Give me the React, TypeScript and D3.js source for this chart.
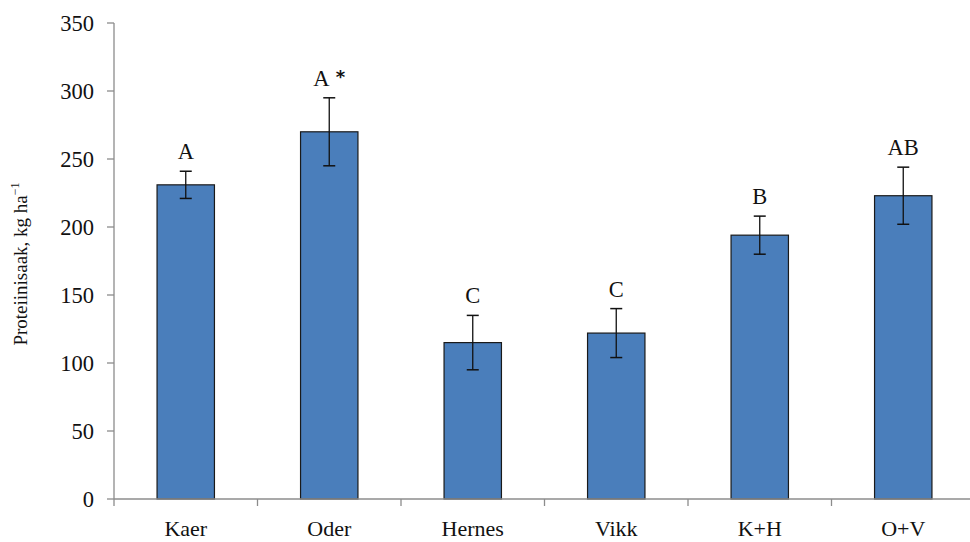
import React from "react";
import * as d3 from "d3";

const categories = ["Kaer", "Oder", "Hernes", "Vikk", "K+H", "O+V"];
const means = [231, 270, 115, 122, 194, 223];
const errors = [10, 25, 20, 18, 14, 21];
const letters = ["A", "A", "C", "C", "B", "AB"];
const starred = [false, true, false, false, false, false];
const yTicks = [0, 50, 100, 150, 200, 250, 300, 350];

const W = 970;
const H = 542;
const left = 114;
const right = 975;
const top = 23;
const bottom = 499;
const font = "'Liberation Serif', 'Times New Roman', serif";
const axisColor = "#8c8c8c";

export default function App() {
  const x = d3.scaleBand<string>().domain(categories).range([left, right]).padding(0);
  const y = d3.scaleLinear().domain([0, 350]).range([bottom, top]);
  const bw = x.bandwidth() * 0.4;

  return (
    <svg
      width={W}
      height={H}
      style={{ position: "absolute", left: 0, top: 0, background: "#fff" }}
      fontFamily={font}
    >
      {/* y axis */}
      <line x1={left} x2={left} y1={top} y2={bottom} stroke={axisColor} strokeWidth={1.3} />
      {yTicks.map((t) => (
        <g key={t}>
          <line x1={left - 7} x2={left} y1={y(t)} y2={y(t)} stroke={axisColor} strokeWidth={1.3} />
          <text x={left - 20} y={y(t)} dy="0.35em" textAnchor="end" fontSize={22.5} fill="#111">
            {t}
          </text>
        </g>
      ))}

      {/* bars */}
      {categories.map((c, i) => {
        const cx = (x(c) as number) + x.bandwidth() / 2;
        return (
          <rect
            key={c}
            x={cx - bw / 2}
            y={y(means[i])}
            width={bw}
            height={bottom - y(means[i])}
            fill="#4a7ebb"
            stroke="#1a1a1a"
            strokeWidth={1.2}
          />
        );
      })}

      {/* x axis */}
      <line x1={left} x2={right} y1={bottom} y2={bottom} stroke={axisColor} strokeWidth={1.3} />
      {[...categories.map((c) => x(c) as number), right].map((p, i) => (
        <line key={i} x1={p} x2={p} y1={bottom} y2={bottom + 7} stroke={axisColor} strokeWidth={1.3} />
      ))}
      {categories.map((c) => (
        <text
          key={c}
          x={(x(c) as number) + x.bandwidth() / 2}
          y={536}
          textAnchor="middle"
          fontSize={22}
          fill="#111"
        >
          {c}
        </text>
      ))}

      {/* error bars and letters */}
      {categories.map((c, i) => {
        const cx = (x(c) as number) + x.bandwidth() / 2;
        const hi = y(means[i] + errors[i]);
        const lo = y(means[i] - errors[i]);
        return (
          <g key={c}>
            <line x1={cx} x2={cx} y1={hi} y2={lo} stroke="#111" strokeWidth={1.3} />
            <line x1={cx - 6} x2={cx + 6} y1={hi} y2={hi} stroke="#111" strokeWidth={1.5} />
            <line x1={cx - 6} x2={cx + 6} y1={lo} y2={lo} stroke="#111" strokeWidth={1.5} />
            <text x={cx} y={hi - 12} textAnchor="middle" fontSize={22.5} fill="#111">
              {letters[i]}
              {starred[i] ? (
                <tspan fontFamily="'DejaVu Sans', sans-serif" fontWeight="bold" fontSize={18} dy={-3}>
                  {" *"}
                </tspan>
              ) : null}
            </text>
          </g>
        );
      })}

      {/* y axis title */}
      <text
        transform={`translate(27, 264) rotate(-90)`}
        textAnchor="middle"
        fontSize={19}
        fill="#111"
      >
        Proteiinisaak, kg ha
        <tspan fontSize={12} dy={-8}>−1</tspan>
      </text>
    </svg>
  );
}
